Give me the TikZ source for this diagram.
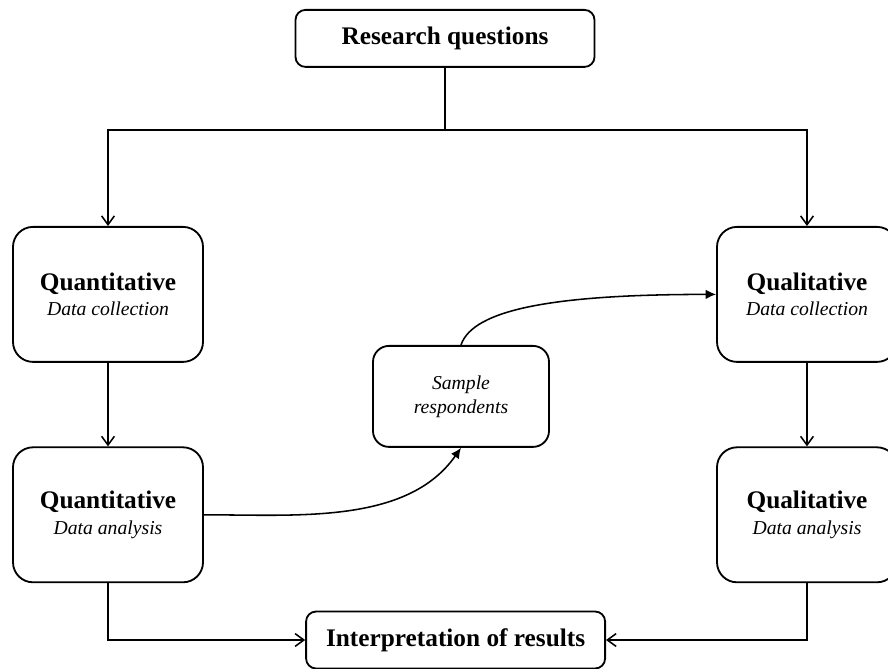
\documentclass[tikz,border=0pt]{standalone}
\usepackage{fontspec}
\setmainfont{Liberation Serif}
\usetikzlibrary{arrows.meta}

\begin{document}
\begin{tikzpicture}[>={Straight Barb[length=2.2mm,width=3.2mm]},
  phase/.style={draw, line width=1.3pt, rounded corners=0.5cm, align=center,
    minimum width=4.75cm, minimum height=3.375cm, inner sep=0pt,
    font=\fontsize{14}{18}\selectfont},
  titlebox/.style={draw, line width=1.3pt, rounded corners=0.25cm,
    minimum width=7.475cm, minimum height=1.425cm, inner sep=0pt,
    font=\fontsize{18}{20}\selectfont\bfseries},
  link/.style={line width=1.1pt}]

\useasboundingbox (0, 0) rectangle (22.2, 16.7);

\node[titlebox] (rq) at (11.125, 15.74) {Research questions};

\node[phase] (qndc) at (2.7, 9.34) {{\fontsize{18}{18}\selectfont\bfseries Quantitative}\\\itshape Data collection};
\node[phase] (qnda) at (2.7, 3.83) {{\fontsize{18}{18}\selectfont\bfseries Quantitative}\\\itshape Data analysis};
\node[phase, minimum width=4.5cm] (qldc) at (20.175, 9.34) {{\fontsize{18}{18}\selectfont\bfseries Qualitative}\\\itshape Data collection};
\node[phase, minimum width=4.5cm] (qlda) at (20.175, 3.83) {{\fontsize{18}{18}\selectfont\bfseries Qualitative}\\\itshape Data analysis};

\node[phase, rounded corners=0.4cm, minimum width=4.4cm, minimum height=2.525cm,
  font=\fontsize{14}{17}\selectfont\itshape] (sample) at (11.525, 6.79) {Sample\\respondents};

\node[titlebox] (interp) at (11.39, 0.7) {Interpretation of results};

% branching from the questions
\draw[link] (rq.south) -- ++(0, -1.55) coordinate (split);
\draw[link, ->] (split) -| (qndc.north);
\draw[link, ->] (split) -| (qldc.north);

\draw[link, ->] (qndc) -- (qnda);
\draw[link, ->] (qldc) -- (qlda);

% sampling loop
\draw[link, -{Latex[length=2.6mm,width=2.4mm]}] (qnda.east) to[out=0, in=-125, looseness=0.9] (sample.south);
\draw[link, -{Latex[length=2.6mm,width=2.4mm]}] (sample.north) .. controls +(0.3, 0.9) and +(-4, 0) .. (qldc.west);

\draw[link, ->] (qnda.south) |- (interp.west);
\draw[link, ->] (qlda.south) |- (interp.east);

\end{tikzpicture}
\end{document}
